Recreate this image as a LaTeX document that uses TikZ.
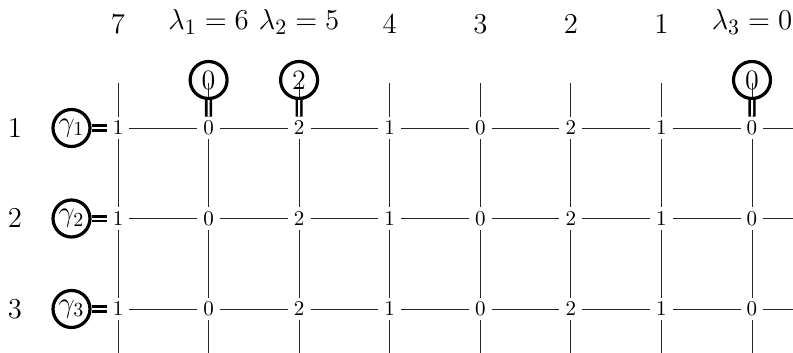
\documentclass[tikz,border=0pt]{standalone}
\begin{document}
\begin{tikzpicture}[x=0.5pt,y=-0.5pt,
  val/.style={circle,minimum size=11pt,inner sep=0pt,font=\fontsize{10.5}{11}\selectfont},
  lbl/.style={inner sep=0pt,font=\fontsize{15.5}{17}\selectfont},
  ring/.style={circle,draw,line width=1.6pt,minimum size=18.5pt,inner sep=0pt,font=\fontsize{14}{15}\selectfont},
  grid/.style={line width=0.45pt,draw=black!85},
  dbl/.style={draw,line width=1.3pt,double,double distance=1pt}]
\useasboundingbox (0,0) rectangle (793,353);
\def\vals{{1,0,2,1,0,2,1,0}}
\foreach \c in {1,...,8} {
  \pgfmathsetmacro{\xx}{118+90.57*(\c-1)}
  \pgfmathtruncatemacro{\v}{\vals[\c-1]}
  \foreach \r/\yy in {1/128,2/218.5,3/309} {
    \node[val] (n-\r-\c) at (\xx,\yy) {\v};
  }
  \coordinate (top-\c) at (\xx,83);
  \coordinate (bot-\c) at (\xx,355);
}
\foreach \r/\yy in {1/128,2/218.5,3/309} {
  \coordinate (end-\r) at (795,\yy);
}
% top labels
\node[lbl] (h1) at (118,24) {$7$};
\node[lbl] (h2) at (208.6,22) {$\lambda_1 = 6$};
\node[lbl] (h3) at (299.1,22) {$\lambda_2 = 5$};
\node[lbl] (h4) at (389.7,24) {$4$};
\node[lbl] (h5) at (480.3,24) {$3$};
\node[lbl] (h6) at (570.8,24) {$2$};
\node[lbl] (h7) at (661.4,24) {$1$};
\node[lbl] (h8) at (752,22) {$\lambda_3 = 0$};
% row labels
\node[lbl] (r1) at (15,128) {$1$};
\node[lbl] (r2) at (15,218.5) {$2$};
\node[lbl] (r3) at (15,309) {$3$};
% grid lines
\foreach \c in {1,...,8} {
  \draw[grid] (top-\c) -- (n-1-\c) -- (n-2-\c) -- (n-3-\c) -- (bot-\c);
}
\foreach \r in {1,2,3} {
  \foreach \c [evaluate=\c as \d using int(\c+1)] in {1,...,7} {
    \draw[grid] (n-\r-\c) -- (n-\r-\d);
  }
  \draw[grid] (n-\r-8) -- (end-\r);
}
% gamma rings
\foreach \r/\yy in {1/128,2/218.5,3/309} {
  \node[ring] (g-\r) at (71.5,\yy) {$\gamma_{\r}$};
  \draw[dbl] (g-\r) -- (n-\r-1);
}
% top rings
\node[ring] (t-2) at (208.6,80) {0};
\node[ring] (t-3) at (299.1,80) {2};
\node[ring] (t-8) at (752,80) {0};
\foreach \c in {2,3,8} { \draw[dbl] (t-\c) -- (n-1-\c); }
\end{tikzpicture}
\end{document}
